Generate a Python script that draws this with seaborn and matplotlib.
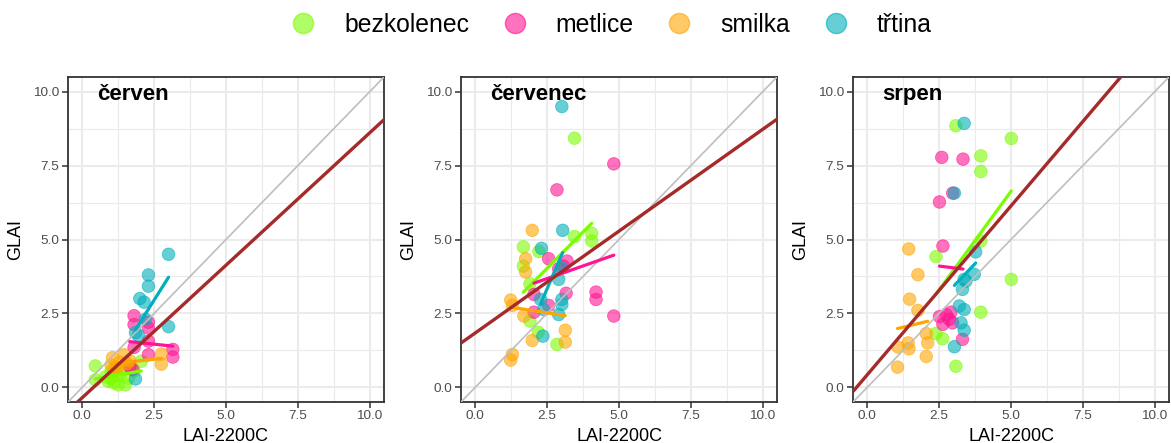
import matplotlib
matplotlib.use("Agg")
import matplotlib.pyplot as plt
from matplotlib.lines import Line2D
import seaborn as sns
import pandas as pd

SPECIES = ["bezkolenec", "metlice", "smilka", "třtina"]
COLORS = ["#7CFC00", "#FF1493", "#FFA500", "#00AFBB"]
MONTHS = ["červen", "červenec", "srpen"]
TICKS = [0.0, 2.5, 5.0, 7.5, 10.0]
TICK_LABELS = ["0.0", "2.5", "5.0", "7.5", "10.0"]

# --- červen ---
cerven_bezkolenec_lai = [0.45, 0.45, 0.8, 0.9, 1.0, 1.1, 1.25, 1.5, 1.2, 1.35, 1.6, 1.45, 1.7, 2.05, 1.8, 1.0]
cerven_bezkolenec_glai = [0.72, 0.25, 0.35, 0.2, 0.3, 0.15, 0.08, 0.08, 0.4, 0.5, 0.3, 0.6, 0.7, 0.88, 0.55, 0.55]
cerven_metlice_lai = [1.8, 1.8, 2.3, 2.3, 2.3, 3.15, 3.15, 2.3, 1.8, 1.65, 1.75]
cerven_metlice_glai = [2.42, 2.12, 2.2, 2.0, 1.56, 1.28, 1.02, 1.1, 1.35, 0.7, 0.6]
cerven_smilka_lai = [1.0, 1.05, 1.1, 1.2, 1.3, 1.45, 1.55, 1.65, 2.75, 2.75]
cerven_smilka_glai = [0.75, 1.0, 0.55, 0.65, 0.85, 1.1, 0.8, 0.9, 1.12, 0.78]
cerven_trtina_lai = [3.0, 2.3, 2.3, 2.0, 2.15, 3.0, 1.85, 1.95, 2.2, 1.85]
cerven_trtina_glai = [4.5, 3.8, 3.42, 3.0, 2.88, 2.05, 1.85, 1.75, 2.3, 0.28]

# --- červenec ---
cervenec_bezkolenec_lai = [3.45, 3.45, 4.05, 4.05, 1.67, 2.21, 1.67, 1.90, 1.90, 2.19, 2.84]
cervenec_bezkolenec_glai = [8.43, 5.10, 5.21, 4.95, 4.75, 4.59, 4.10, 3.50, 2.24, 1.86, 1.45]
cervenec_metlice_lai = [4.82, 2.84, 2.55, 3.19, 2.90, 3.07, 2.04, 3.16, 4.20, 4.20, 2.55, 2.04, 4.82]
cervenec_metlice_glai = [7.56, 6.68, 4.35, 4.27, 4.01, 4.10, 3.14, 3.18, 3.22, 2.97, 2.77, 2.54, 2.41]
cervenec_smilka_lai = [1.98, 1.75, 1.75, 1.23, 1.29, 1.69, 3.13, 3.13, 1.98, 1.29, 1.23]
cervenec_smilka_glai = [5.31, 4.35, 3.90, 2.95, 2.77, 2.41, 1.93, 1.53, 1.58, 1.11, 0.92]
cervenec_trtina_lai = [3.01, 3.04, 2.30, 2.90, 3.00, 2.27, 3.01, 3.01, 2.38, 2.90, 2.35]
cervenec_trtina_glai = [9.50, 5.31, 4.70, 3.65, 4.05, 2.97, 2.97, 2.80, 2.63, 2.46, 1.73]

# --- srpen ---
srpen_bezkolenec_lai = [3.08, 5.01, 3.95, 3.95, 2.39, 3.95, 5.01, 3.95, 2.39, 2.62, 3.08]
srpen_bezkolenec_glai = [8.85, 8.42, 7.83, 7.30, 4.42, 4.95, 3.65, 2.54, 1.82, 1.64, 0.71]
srpen_metlice_lai = [2.59, 3.33, 2.97, 2.51, 2.63, 2.51, 2.91, 2.63, 2.97, 3.31, 2.75, 2.85]
srpen_metlice_glai = [7.78, 7.72, 6.57, 6.27, 4.78, 2.39, 2.54, 2.13, 2.18, 1.62, 2.45, 2.30]
srpen_smilka_lai = [1.44, 1.76, 1.47, 1.76, 2.05, 2.10, 1.42, 1.07, 2.05, 1.05, 1.45]
srpen_smilka_glai = [4.68, 3.81, 2.98, 2.60, 1.82, 1.50, 1.50, 1.36, 1.04, 0.68, 1.30]
srpen_trtina_lai = [3.37, 3.03, 3.77, 3.72, 3.43, 3.37, 3.31, 3.20, 3.37, 3.26, 3.37, 3.03]
srpen_trtina_glai = [8.93, 6.57, 4.58, 3.82, 3.59, 3.65, 3.31, 2.75, 2.63, 2.18, 1.93, 1.37]

series = {
    "červen": [
        (cerven_bezkolenec_lai, cerven_bezkolenec_glai),
        (cerven_metlice_lai, cerven_metlice_glai),
        (cerven_smilka_lai, cerven_smilka_glai),
        (cerven_trtina_lai, cerven_trtina_glai),
    ],
    "červenec": [
        (cervenec_bezkolenec_lai, cervenec_bezkolenec_glai),
        (cervenec_metlice_lai, cervenec_metlice_glai),
        (cervenec_smilka_lai, cervenec_smilka_glai),
        (cervenec_trtina_lai, cervenec_trtina_glai),
    ],
    "srpen": [
        (srpen_bezkolenec_lai, srpen_bezkolenec_glai),
        (srpen_metlice_lai, srpen_metlice_glai),
        (srpen_smilka_lai, srpen_smilka_glai),
        (srpen_trtina_lai, srpen_trtina_glai),
    ],
}

rows = []
for month in MONTHS:
    for sp, (lai, glai) in zip(SPECIES, series[month]):
        for a, b in zip(lai, glai):
            rows.append({"mesic": month, "druh": sp, "lai": a, "glai": b})
df = pd.DataFrame(rows)

sns.set_style("white")
plt.rcParams["font.family"] = ["Liberation Sans", "DejaVu Sans"]

W, H = 1171, 443
fig = plt.figure(figsize=(W / 100, H / 100), dpi=100)
panel_left = [68, 461, 853]
pw, ph = 316, 325
ptop = 77

LIM = (-0.5, 10.5)
for month, left in zip(MONTHS, panel_left):
    ax = fig.add_axes([left / W, (H - ptop - ph) / H, pw / W, ph / H])
    sub = df[df["mesic"] == month]
    ax.set_xlim(*LIM)
    ax.set_ylim(*LIM)

    ax.set_xticks(TICKS)
    ax.set_xticklabels(TICK_LABELS)
    ax.set_yticks(TICKS)
    ax.set_yticklabels(TICK_LABELS)
    ax.set_xticks([1.25, 3.75, 6.25, 8.75], minor=True)
    ax.set_yticks([1.25, 3.75, 6.25, 8.75], minor=True)
    ax.grid(which="major", color="#EBEBEB", lw=1.5, zorder=0)
    ax.grid(which="minor", color="#EBEBEB", lw=0.8, zorder=0)
    ax.set_axisbelow(True)
    ax.tick_params(which="major", length=4, width=1.1, color="#333333",
                   labelsize=9.7, labelcolor="#4D4D4D", pad=2,
                   bottom=True, left=True)
    ax.tick_params(which="minor", length=0)
    for sp_ in ax.spines.values():
        sp_.set_color("#333333")
        sp_.set_linewidth(1.3)

    sns.scatterplot(data=sub, x="lai", y="glai", hue="druh", hue_order=SPECIES,
                    palette=COLORS, s=82, alpha=0.6, edgecolor="face",
                    linewidth=0.6, legend=False, ax=ax, zorder=2)

    # 1:1 reference line
    ax.axline((0, 0), slope=1, color="#BEBEBE", lw=1.2, zorder=3)

    # per-species linear fits, limited to each species' data range
    for sp, col in zip(SPECIES, COLORS):
        d = sub[sub["druh"] == sp]
        sns.regplot(data=d, x="lai", y="glai", scatter=False, ci=None,
                    truncate=True, color=col, line_kws=dict(lw=2.3, zorder=4),
                    ax=ax)

    # overall linear fit, extended across the axis limits
    ax.set_xlim(*LIM)
    sns.regplot(data=sub, x="lai", y="glai", scatter=False, ci=None,
                truncate=False, color="#A52A2A",
                line_kws=dict(lw=2.4, zorder=5), ax=ax)

    ax.set_xlim(*LIM)
    ax.set_ylim(*LIM)
    ax.set_xlabel("LAI-2200C", fontsize=13, color="black", labelpad=4)
    ax.set_ylabel("GLAI", fontsize=13, color="black", labelpad=7)
    ax.text(0.092, 0.945, month, transform=ax.transAxes, fontsize=16,
            fontweight="bold", ha="left", va="center", color="black")

handles = [Line2D([0], [0], marker="o", linestyle="none", markersize=14.5,
                  markerfacecolor=c, markeredgecolor=c, alpha=0.6)
           for c in COLORS]
fig.legend(handles, SPECIES, loc="center", bbox_to_anchor=(605 / W, 1 - 25 / H),
           ncol=4, frameon=False, fontsize=17.8, handletextpad=0.65,
           columnspacing=0.85, borderaxespad=0, labelcolor="black")

fig.savefig("out.png", dpi=100)
